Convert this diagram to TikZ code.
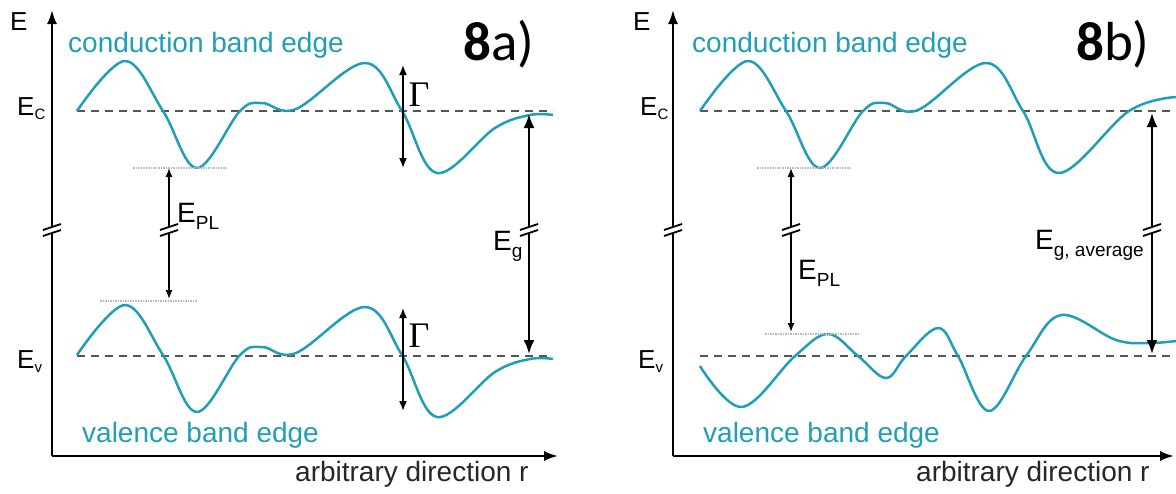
\documentclass[tikz,border=0pt]{standalone}
\usepackage{fontspec}
\setmainfont{Liberation Sans}
\newfontfamily\panelfont{Carlito}
\newfontfamily\gammafont{Liberation Serif}
\usetikzlibrary{arrows.meta}

\definecolor{bandcol}{RGB}{33,158,183}
\definecolor{levelgray}{RGB}{85,85,85}

\newcommand{\bigsub}[1]{\raisebox{-7pt}{\fontsize{19}{19}\selectfont #1}}
\newcommand{\smallsub}[1]{\raisebox{-4pt}{\fontsize{15}{15}\selectfont #1}}

\tikzset{
  brk/.pic={
    \fill[white] (-9,0) -- (9,-6) -- (9,0) -- (-9,6) -- cycle;
    \draw[line width=1.8pt] (-9,0) -- (9,-6) (-9,6) -- (9,0);
  }
}

\begin{document}
\begin{tikzpicture}[x=1pt, y=-1pt,
  band/.style={bandcol, line width=2.5pt, line join=round},
  level/.style={levelgray, line width=2.6pt, dash pattern=on 8pt off 6pt},
  pllevel/.style={gray!55, line width=1.8pt, dash pattern=on 1.5pt off 1pt},
  axis/.style={line width=2pt, -{Latex[length=14pt, width=10pt]}},
  plarrow/.style={line width=1.3pt, >={Latex[length=9pt, width=7pt]}, <->},
  gamarrow/.style={line width=1.6pt, >={Latex[length=10pt, width=8pt]}, <->},
  gaparrow/.style={line width=2.2pt, >={Latex[length=14pt, width=11pt]}, <->},
  txt/.style={inner sep=0pt, anchor=base west, font=\fontsize{26}{30}\selectfont},
  bandtxt/.style={txt, bandcol, font=\fontsize{28}{32}\selectfont},
  dirtxt/.style={txt, black!85, font=\fontsize{28}{32}\selectfont},
  gamtxt/.style={inner sep=0pt, font=\gammafont\fontsize{36}{36}\selectfont},
  paneltxt/.style={inner sep=0pt, anchor=base west, font=\panelfont\fontsize{55}{55}\selectfont}
]
  \useasboundingbox (0,0) rectangle (1176,493);

  %% ===== 8a) =====
  %% 軸
  \draw[axis] (52,456) -- (52,10);
  \draw[axis] (52,456) -- (558,456);
  \node[txt] (Ea) at (10,30) {E};
  \node[dirtxt] (dira) at (295,481) {arbitrary direction r};

  %% E_C, E_V（破線）
  \draw[level] (77,111) -- (553,111);
  \draw[level] (77,356) -- (553,356);
  \node[txt] (Eca) at (17,115) {E\smallsub{C}};
  \node[txt] (Eva) at (17,368) {E\smallsub{v}};

  %% 伝導帯・価電子帯の端（同じ形を 244 下へ）
  \draw[band] plot[smooth, tension=0.6] coordinates {
    (77,111) (125,61) (163,111) (197,168) (240,111) (262,103)
    (296,109) (365,63) (402,111) (437,173) (495,128) (530,115) (553,115)};
  \draw[band, shift={(0,244)}] plot[smooth, tension=0.6] coordinates {
    (77,111) (125,61) (163,111) (197,168) (240,111) (262,103)
    (296,109) (365,63) (402,111) (437,173) (495,128) (530,115) (553,115)};
  \node[bandtxt] (cba) at (68,52) {conduction band edge};
  \node[bandtxt] (vba) at (82,442) {valence band edge};

  %% E_PL
  \draw[pllevel] (133,168) -- (227,168);
  \draw[pllevel] (100,301) -- (197,301);
  \coordinate (pltopa) at (169,168);
  \coordinate (plbota) at (169,299);
  \draw[plarrow] (pltopa) -- (plbota);
  \node[txt, font=\fontsize{28}{32}\selectfont] (Epla) at (177,222) {E\bigsub{PL}};

  %% Γ
  \coordinate (gctopa) at (403,65);
  \coordinate (gcbota) at (403,168);
  \coordinate (gvtopa) at (403,308);
  \coordinate (gvbota) at (403,411);
  \draw[gamarrow] (gctopa) -- (gcbota);
  \draw[gamarrow] (gvtopa) -- (gvbota);
  \node[gamtxt] (gca) at (419,95) {Γ};
  \node[gamtxt] (gva) at (419,336) {Γ};

  %% E_g
  \coordinate (egtopa) at (529,114);
  \coordinate (egbota) at (529,354);
  \draw[gaparrow] (egtopa) -- (egbota);
  \node[txt, font=\fontsize{28}{32}\selectfont] (Ega) at (493,250) {E\bigsub{g}};

  %% 途中省略の記号
  \pic at (52,230) {brk};
  \pic at (169,230) {brk};
  \pic at (529,230) {brk};

  \node[paneltxt] (laba) at (463,60) {\textbf{8}a)};

  %% ===== 8b) =====
  %% 軸
  \draw[axis] (673,456) -- (673,10);
  \draw[axis] (673,456) -- (1174,456);
  \node[txt] (Eb) at (633,30) {E};
  \node[dirtxt] (dirb) at (916,481) {arbitrary direction r};

  %% E_C, E_V（破線）
  \draw[level] (700,111) -- (1173,111);
  \draw[level] (700,356) -- (1173,356);
  \node[txt] (Ecb) at (640,115) {E\smallsub{C}};
  \node[txt] (Evb) at (638,368) {E\smallsub{v}};

  %% 伝導帯の端
  \draw[band] plot[smooth, tension=0.6] coordinates {
    (700,111) (748,61) (786,111) (820,168) (863,111) (885,103)
    (918,110) (986,63) (1023,111) (1059,173) (1129,111) (1176,97)};
  %% 価電子帯の端
  \draw[band] plot[smooth, tension=0.6] coordinates {
    (700,366) (742,407) (795,356) (828,334) (858,356) (886,378)
    (906,356) (938,328) (958,356) (989,411) (1026,356) (1061,315)
    (1116,340) (1149,343) (1176,341)};
  \node[bandtxt] (cbb) at (692,52) {conduction band edge};
  \node[bandtxt] (vbb) at (703,442) {valence band edge};

  %% E_PL
  \draw[pllevel] (757,168) -- (850,168);
  \draw[pllevel] (765,334) -- (860,334);
  \coordinate (pltopb) at (791,168);
  \coordinate (plbotb) at (791,332);
  \draw[plarrow] (pltopb) -- (plbotb);
  \node[txt, font=\fontsize{28}{32}\selectfont] (Eplb) at (798,279) {E\bigsub{PL}};

  %% E_g, average
  \coordinate (egtopb) at (1152,113);
  \coordinate (egbotb) at (1152,354);
  \draw[gaparrow] (egtopb) -- (egbotb);
  \node[txt, font=\fontsize{28}{32}\selectfont] (Egb) at (1035,249) {E\bigsub{g, average}};

  %% 途中省略の記号
  \pic at (673,230) {brk};
  \pic at (791,230) {brk};
  \pic at (1152,230) {brk};

  \node[paneltxt] (labb) at (1076,60) {\textbf{8}b)};
\end{tikzpicture}
\end{document}
